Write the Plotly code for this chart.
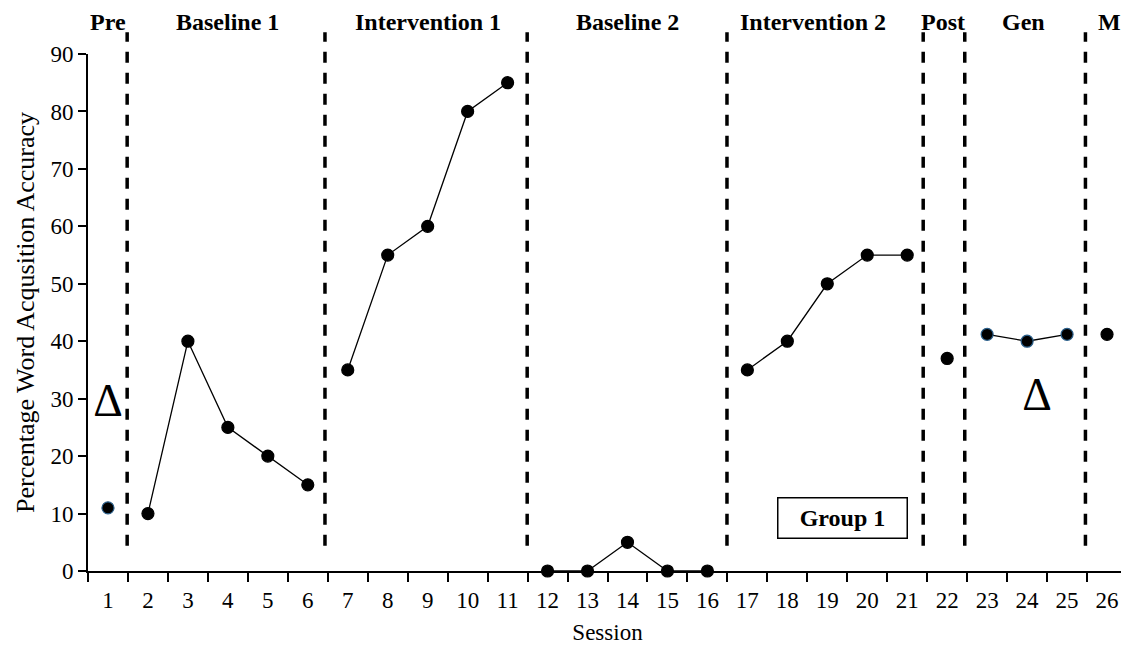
import plotly.graph_objects as go

sessions = list(range(1, 27))
accuracy = [11, 10, 40, 25, 20, 15, 35, 55, 60, 80, 85, 0, 0, 5, 0, 0,
            35, 40, 50, 55, 55, 37, 41.2, 40, 41.2, 41.2]
# connected segments (phases)
segments = [(2, 6), (7, 11), (12, 16), (17, 21), (23, 25)]
outlined_sessions = [1, 23, 24, 25]
phase_names = ["Pre", "Baseline 1", "Intervention 1", "Baseline 2",
               "Intervention 2", "Post", "Gen", "M"]
phase_label_x = [1, 4, 9, 14, 18.65, 21.9, 23.9, 26.05]
phase_bounds = [1.48, 6.43, 11.49, 16.49, 21.4, 22.44, 25.46]
triangle_x = [1.0, 24.25]
triangle_y = [29.0, 30.0]

SERIF = "Liberation Serif, Times New Roman, serif"

fig = go.Figure()

for a, b in segments:
    xs = [s for s in sessions if a <= s <= b]
    ys = [accuracy[s - 1] for s in xs]
    fig.add_trace(go.Scatter(x=xs, y=ys, mode="lines",
                             line=dict(color="black", width=1.3),
                             hoverinfo="skip", showlegend=False, cliponaxis=False))

edge_colors = ["#2b5f8a" if s in outlined_sessions else "black" for s in sessions]
fig.add_trace(go.Scatter(x=sessions, y=accuracy, mode="markers",
                         marker=dict(color="black", size=12,
                                     line=dict(color=edge_colors, width=1.2)),
                         showlegend=False, cliponaxis=False))

fig.add_trace(go.Scatter(x=triangle_x, y=triangle_y, mode="text",
                         text=["Δ", "Δ"], textposition="middle center",
                         textfont=dict(family=SERIF, size=46, color="black"),
                         showlegend=False, cliponaxis=False, hoverinfo="skip"))

for xb in phase_bounds:
    fig.add_shape(type="line", xref="x", yref="paper", x0=xb, x1=xb,
                  y0=4.4 / 90, y1=93.8 / 90,
                  line=dict(color="black", width=3.5, dash="11px,10px"))

for name, xp in zip(phase_names, phase_label_x):
    fig.add_annotation(x=xp, y=1.0, xref="x", yref="paper", yshift=32,
                       yanchor="middle",
                       text="<b>%s</b>" % name, showarrow=False,
                       font=dict(family=SERIF, size=24, color="black"))

fig.add_annotation(x=19.37, y=9.2, xref="x", yref="y", text="<b>Group 1</b>",
                   showarrow=False, bordercolor="black", borderwidth=1.5,
                   width=126, height=37, bgcolor="white",
                   font=dict(family=SERIF, size=24, color="black"))

fig.update_layout(
    width=1121, height=641,
    margin=dict(l=80, r=2, t=46, b=78),
    plot_bgcolor="white", paper_bgcolor="white",
    font=dict(family=SERIF, color="black"),
    xaxis=dict(range=[0.5, 26.5], tickvals=sessions, ticktext=[str(s) for s in sessions],
               ticks="", showgrid=False, zeroline=False,
               showline=True, linecolor="black", linewidth=2,
               ticklabelstandoff=7,
               tickfont=dict(family=SERIF, size=23, color="black"),
               minor=dict(tickvals=[i + 0.5 for i in range(0, 27)], ticks="outside",
                          ticklen=9, tickwidth=2, tickcolor="black", showgrid=False),
               title=dict(text="Session", font=dict(family=SERIF, size=23), standoff=12)),
    yaxis=dict(range=[0, 90], tickvals=list(range(0, 91, 10)), ticks="outside",
               ticklen=8, tickwidth=2, tickcolor="black", ticksuffix=" ",
               showgrid=False, zeroline=False, showline=True, linecolor="black", linewidth=2,
               tickfont=dict(family=SERIF, size=23, color="black"),
               title=dict(text="Percentage Word Acqusition Accuracy",
                          font=dict(family=SERIF, size=26), standoff=8)),
)

fig.write_html("out.html")
